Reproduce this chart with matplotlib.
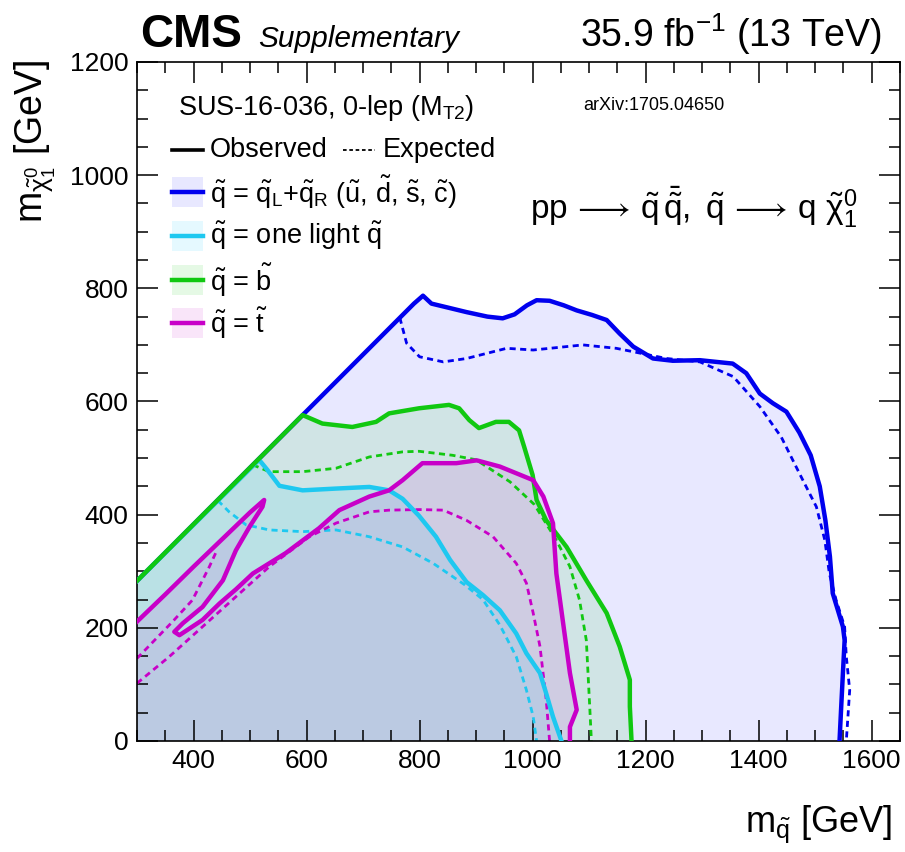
import matplotlib
matplotlib.use("Agg")
import matplotlib.pyplot as plt
from matplotlib.patches import Rectangle
from matplotlib.lines import Line2D

plt.rcParams['font.family'] = ['Liberation Sans', 'DejaVu Sans']
plt.rcParams['mathtext.fontset'] = 'custom'
plt.rcParams['mathtext.rm'] = 'Liberation Sans'
plt.rcParams['mathtext.it'] = 'Liberation Sans:italic'
plt.rcParams['mathtext.bf'] = 'Liberation Sans:bold'
plt.rcParams['mathtext.default'] = 'regular'

# ---- data (m_squark, m_LSP) ----
blue_obs_x = [300, 790, 806, 821, 850, 883, 920, 947, 968, 990, 1007, 1030, 1055, 1078, 1105, 1131, 1154,
              1178, 1213, 1248, 1296, 1354, 1378, 1402, 1425, 1449, 1472, 1492, 1508, 1518, 1526, 1531,
              1549, 1552, 1549, 1546, 1543]
blue_obs_y = [283, 773, 787, 773, 766, 758, 750, 747, 754, 770, 779, 778, 770, 761, 753, 744, 720,
              697, 676, 672, 673, 667, 650, 614, 597, 582, 545, 505, 450, 390, 326, 261,
              202, 178, 120, 61, 0]
blue_exp_x = [765, 777, 800, 842, 883, 954, 1001, 1089, 1148, 1237, 1296, 1355, 1402, 1440, 1472, 1502,
              1517, 1525, 1537, 1552, 1555, 1561, 1555]
blue_exp_y = [748, 703, 679, 670, 676, 694, 691, 700, 694, 676, 670, 644, 591, 537, 473, 414,
              355, 296, 249, 202, 149, 90, 0]

cyan_obs_x = [300, 516, 530, 552, 593, 650, 711, 746, 770, 799, 829, 854, 883, 912, 942, 971, 989, 1013,
              1024, 1036, 1051]
cyan_obs_y = [283, 497, 480, 451, 443, 446, 449, 443, 428, 398, 361, 320, 281, 258, 231, 190, 155, 120,
              84, 43, 0]
cyan_exp_x = [443, 463, 493, 534, 593, 652, 711, 770, 824, 880, 912, 942, 971, 989, 1001, 1007]
cyan_exp_y = [425, 405, 382, 373, 370, 373, 361, 343, 314, 276, 250, 205, 149, 90, 43, 0]

green_obs_x = [300, 593, 628, 681, 723, 746, 799, 852, 870, 888, 905, 935, 958, 976, 985, 1000, 1007,
               1024, 1060, 1095, 1131, 1154, 1172, 1172, 1175]
green_obs_y = [283, 576, 561, 555, 564, 579, 588, 594, 588, 567, 553, 564, 564, 549, 520, 470, 426,
               390, 343, 284, 226, 167, 108, 61, 0]
green_exp_x = [505, 534, 593, 652, 711, 770, 799, 858, 900, 960, 1003, 1042, 1066, 1083, 1095, 1101, 1104]
green_exp_y = [488, 476, 476, 482, 502, 511, 512, 505, 497, 458, 418, 355, 308, 249, 178, 61, 0]

mag_obs_x = [300, 350, 400, 450, 500, 525, 522, 500, 475, 452, 416, 381, 366, 375, 416, 446, 475, 505,
             563, 622, 658, 711, 746, 770, 805, 865, 901, 942, 1001, 1019, 1036, 1042, 1054, 1066,
             1078, 1066, 1066]
mag_obs_y = [211, 259, 308, 356, 404, 426, 414, 380, 337, 284, 237, 208, 193, 187, 214, 243, 268, 296,
             332, 376, 408, 432, 443, 461, 491, 491, 496, 485, 461, 432, 385, 296, 208, 120,
             55, 25, 0]
mag_exp1_x = [300, 363, 398, 428, 440]
mag_exp1_y = [146, 211, 249, 308, 334]
mag_exp2_x = [300, 357, 416, 475, 534, 605, 652, 711, 746, 800, 842, 883, 930, 971, 989, 1001, 1013,
              1024, 1030]
mag_exp2_y = [102, 149, 202, 255, 308, 361, 385, 405, 408, 409, 408, 390, 361, 314, 279, 226, 167,
              73, 0]

W, H = 905, 852
fig = plt.figure(figsize=(W / 100, H / 100), dpi=100)
ax = fig.add_axes([137 / W, 1 - 741 / H, (900 - 137) / W, (741 - 62) / H])

series = [
    (blue_obs_x, blue_obs_y, [blue_exp_x], [blue_exp_y], '#0000ee', '#0000ff', 0.09),
    (cyan_obs_x, cyan_obs_y, [cyan_exp_x], [cyan_exp_y], '#1ec8f0', '#00c8ff', 0.10),
    (green_obs_x, green_obs_y, [green_exp_x], [green_exp_y], '#11c811', '#00c800', 0.10),
    (mag_obs_x, mag_obs_y, [mag_exp1_x, mag_exp2_x], [mag_exp1_y, mag_exp2_y], '#c800c8', '#c800c8', 0.10),
]

for ox, oy, exs, eys, lc, fc, al in series:
    ax.fill(ox + [300], oy + [0], color=fc, alpha=al, lw=0, zorder=1)
for ox, oy, exs, eys, lc, fc, al in series:
    for ex, ey in zip(exs, eys):
        ax.plot(ex, ey, color=lc, lw=2.0, ls=(0, (2.2, 1.6)), zorder=2)
    ax.plot(ox, oy, color=lc, lw=3.2, zorder=3, solid_joinstyle='round')

ax.set_xlim(300, 1650)
ax.set_ylim(0, 1200)
ax.set_xticks(range(400, 1601, 200))
ax.set_yticks(range(0, 1201, 200))
ax.set_xticks(range(300, 1651, 50), minor=True)
ax.set_yticks(range(0, 1201, 50), minor=True)
ax.tick_params(which='both', direction='in', top=True, right=True, labelsize=19, width=1.1, pad=6)
ax.tick_params(which='major', length=15)
ax.tick_params(which='minor', length=8)
for s in ax.spines.values():
    s.set_linewidth(1.2)

# ---- legend (drawn by hand, ROOT style) ----
def px(x, y):
    return ((x - 137) / (900 - 137), (741 - y) / (741 - 62))

ax.text(*px(178, 108), 'SUS-16-036, 0-lep (M$_{T2}$)', transform=ax.transAxes, fontsize=19.5,
        va='center', ha='left')
ax.text(*px(583, 105), 'arXiv:1705.04650', transform=ax.transAxes, fontsize=13, va='center', ha='left')

x0, y0 = px(172, 150)
x1, _ = px(203, 150)
ax.add_line(Line2D([x0, x1], [y0, y0], color='black', lw=2.6, transform=ax.transAxes))
ax.text(*px(210, 150), 'Observed', transform=ax.transAxes, fontsize=19.5, va='center', ha='left')
x0, _ = px(343, 150)
x1, _ = px(375, 150)
ax.add_line(Line2D([x0, x1], [y0, y0], color='black', lw=1.3, ls=(0, (2, 1.5)), transform=ax.transAxes))
ax.text(*px(383, 150), 'Expected', transform=ax.transAxes, fontsize=19.5, va='center', ha='left')

leg_labels = [
    r'$\tilde{q}$ = $\tilde{q}_{L}$+$\tilde{q}_{R}$ ($\tilde{u}$, $\tilde{d}$, $\tilde{s}$, $\tilde{c}$)',
    r'$\tilde{q}$ = one light $\tilde{q}$',
    r'$\tilde{q}$ = $\tilde{b}$',
    r'$\tilde{q}$ = $\tilde{t}$',
]
leg_y = [192, 236, 280, 323]
for (ox, oy, exs, eys, lc, fc, al), lab, yy in zip(series, leg_labels, leg_y):
    bx0, by0 = px(172, yy + 15)
    bx1, by1 = px(203, yy - 15)
    ax.add_patch(Rectangle((bx0, by0), bx1 - bx0, by1 - by0, transform=ax.transAxes,
                           facecolor=fc, alpha=al, lw=0))
    ax.add_line(Line2D([bx0, bx1], [px(0, yy)[1]] * 2, color=lc, lw=3.2, transform=ax.transAxes))
    ax.text(*px(210, yy), lab, transform=ax.transAxes, fontsize=19.5, va='center', ha='left')

ax.text(*px(530, 207),
        r'$pp\,\longrightarrow\,\tilde{q}\,\bar{\tilde{q}},\ \tilde{q}\,\longrightarrow\,q\ \tilde{\chi}^{0}_{1}$',
        transform=ax.transAxes, fontsize=24, va='center', ha='left')

# ---- titles ----
fig.text(140 / W, 1 - 47 / H, 'CMS', fontsize=33, fontweight='bold', ha='left', va='baseline')
fig.text(258 / W, 1 - 47 / H, 'Supplementary', fontsize=21.5, style='italic', ha='left', va='baseline')
fig.text(882 / W, 1 - 47 / H, '35.9 fb$^{-1}$ (13 TeV)', fontsize=27, ha='right', va='baseline')
fig.text(892 / W, 1 - 832 / H, r'm$_{\tilde{q}}$ [GeV]', fontsize=26, ha='right', va='baseline')
fig.text(35 / W, 1 - 60 / H, r'm$_{\tilde{\chi}^{0}_{1}}$ [GeV]', fontsize=27, rotation=90,
         ha='center', va='top')

fig.savefig('out.png', dpi=100)
